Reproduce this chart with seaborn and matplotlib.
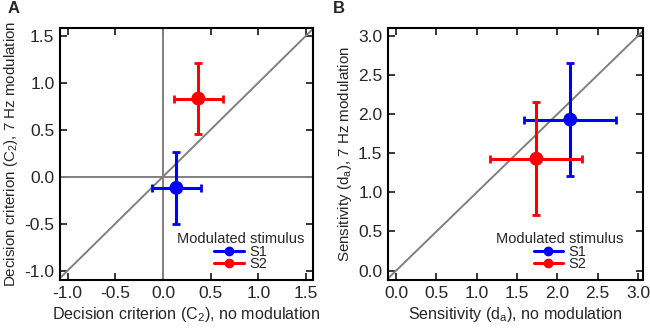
import numpy as np
import pandas as pd
import seaborn as sns
import matplotlib.pyplot as plt
from matplotlib.lines import Line2D

# values
stimuli = ['S1', 'S2']
colors = ['#0000ff', '#ff0000']

crit_nomod = [0.14, 0.37]
crit_7hz = [-0.12, 0.83]
crit_nomod_err = [0.26, 0.26]
crit_7hz_err = [0.38, 0.38]

sens_nomod = [2.16, 1.74]
sens_7hz = [1.93, 1.43]
sens_nomod_err = [0.57, 0.57]
sens_7hz_err = [0.72, 0.72]

crit_ticks = [-1.0, -0.5, 0.0, 0.5, 1.0, 1.5]
sens_ticks = [0.0, 0.5, 1.0, 1.5, 2.0, 2.5, 3.0]

sns.set_theme(style='ticks')
plt.rcParams['font.family'] = ['Liberation Sans', 'DejaVu Sans']
plt.rcParams['mathtext.fontset'] = 'custom'
plt.rcParams['mathtext.rm'] = 'Liberation Sans'
plt.rcParams['mathtext.it'] = 'Liberation Sans:italic'


def draw_panel(ax, x, y, xerr, yerr, xlim, ylim, ticks, xlabel, ylabel, zero_lines, leg_x):
    '''
    draws the unity line, the two error-barred points and the legend for one panel
    '''
    ax.plot([-10, 10], [-10, 10], color='gray', lw=1.4, zorder=1)
    if zero_lines:
        ax.axhline(0, color='gray', lw=1.4, zorder=1)
        ax.axvline(0, color='gray', lw=1.4, zorder=1)
    df = pd.DataFrame({'x': x, 'y': y, 'stim': stimuli})
    for i in range(len(stimuli)):
        ax.errorbar(x[i], y[i], xerr=xerr[i], yerr=yerr[i], color=colors[i],
                    lw=2.2, capsize=2.6, capthick=2, fmt='none', zorder=3)
    sns.scatterplot(data=df, x='x', y='y', hue='stim', palette=colors, s=100,
                    edgecolor='none', legend=False, ax=ax, zorder=4)
    ax.set_xlim(xlim)
    ax.set_ylim(ylim)
    ax.set_xticks(ticks)
    ax.set_yticks(ticks)
    ax.set_xticklabels([f'{t:.1f}' for t in ticks])
    ax.set_yticklabels([f'{t:.1f}' for t in ticks])
    ax.tick_params(direction='in', top=True, right=True, length=5, width=1.3,
                   labelsize=12.5, pad=4)
    for sp in ax.spines.values():
        sp.set_linewidth(1.5)
        sp.set_color('black')
    ax.set_xlabel(xlabel, fontsize=11.6, labelpad=3)
    ax.set_ylabel(ylabel, fontsize=10.9, labelpad=3)
    handles = [Line2D([], [], color=c, lw=2.2, marker='o', markersize=6) for c in colors]
    ax.legend(handles, stimuli, title='Modulated stimulus', loc='lower center',
              bbox_to_anchor=(leg_x, 0.0),
              frameon=False, fontsize=10.5, title_fontsize=10.5,
              handlelength=2.0, handletextpad=0.4, labelspacing=-0.1,
              borderaxespad=0.3, borderpad=0.3)


fig = plt.figure(figsize=(6.5, 3.32), dpi=100)
ax_a = fig.add_axes([0.0923, 0.1566, 0.389, 0.759])
ax_b = fig.add_axes([0.597, 0.1566, 0.392, 0.759])

draw_panel(ax_a, crit_nomod, crit_7hz, crit_nomod_err, crit_7hz_err,
           (-1.08, 1.57), (-1.1, 1.58), crit_ticks,
           'Decision criterion (C$_2$), no modulation',
           'Decision criterion (C$_2$), 7 Hz modulation', True, 0.715)
draw_panel(ax_b, sens_nomod, sens_7hz, sens_nomod_err, sens_7hz_err,
           (-0.1, 3.06), (-0.12, 3.1), sens_ticks,
           'Sensitivity (d$_\\mathrm{a}$), no modulation',
           'Sensitivity (d$_\\mathrm{a}$), 7 Hz modulation', False, 0.675)

fig.text(0.012, 0.975, 'A', fontsize=12, fontweight='bold', va='center')
fig.text(0.512, 0.975, 'B', fontsize=12, fontweight='bold', va='center')

fig.savefig('out.png', dpi=100)
